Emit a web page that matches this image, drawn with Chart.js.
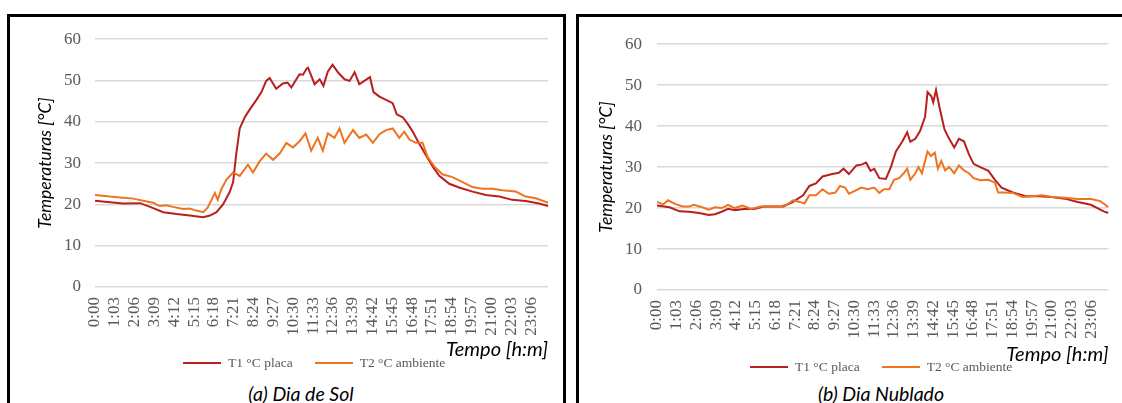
<!DOCTYPE html>
<html>
<head>
<meta charset="utf-8">
<script src="https://cdn.jsdelivr.net/npm/chart.js@4.4.1/dist/chart.umd.min.js"></script>
<style>
  html, body { margin: 0; padding: 0; background: #fff; }
  body { width: 1122px; height: 403px; position: relative; overflow: hidden; }
  .panel { position: absolute; border: 3px solid #000; box-sizing: content-box; }
  canvas { position: absolute; }
  .legend { position: absolute; display: flex; align-items: center; height: 16px;
            font: 13.5px 'Liberation Serif', serif; color: #595959; white-space: nowrap; }
  .legend .item { display: flex; align-items: center; margin-right: 22px; }
  .legend .swatch { width: 38px; height: 2px; margin-right: 7px; }
  .caption { position: absolute; width: 300px; text-align: center; line-height: 22px;
             font: italic 19.5px Lato, sans-serif; color: #000; }
</style>
</head>
<body>
<div class="panel" style="left:7px; top:14px; width:553px; height:400px;"></div>
<div class="panel" style="left:576px; top:14px; width:560px; height:400px;"></div>

<canvas id="chartSol" width="552" height="346" style="left:10px; top:15px;"></canvas>
<canvas id="chartNublado" width="542" height="345" style="left:580px; top:19px;"></canvas>

<div class="legend" id="legendSol" style="left:183px; top:355px;"></div>
<div class="legend" id="legendNublado" style="left:750px; top:359px;"></div>

<div class="caption" style="left:151px; top:382px;">(a) Dia de Sol</div>
<div class="caption" style="left:731px; top:382px;">(b) Dia Nublado</div>

<script>
// tick labels on the time axis (h:mm)
const timeLabels = ['0:00', '1:03', '2:06', '3:09', '4:12', '5:15', '6:18', '7:21', '8:24', '9:27', '10:30',
  '11:33', '12:36', '13:39', '14:42', '15:45', '16:48', '17:51', '18:54', '19:57', '21:00', '22:03', '23:06'];

// (a) sunny day - minutes since midnight / temperature
const solMinT1 = [0, 48, 90, 143, 175, 217, 259, 301, 344, 365, 386, 407, 428, 439, 449, 460, 476, 492, 513, 529,
  544, 555, 576, 597, 612, 624, 640, 650, 661, 673, 677, 698, 714, 726, 740, 755, 774, 793, 809, 825, 840, 856,
  874, 885, 904, 925, 946, 959, 978, 994, 1010, 1031, 1052, 1073, 1094, 1126, 1157, 1200, 1242, 1285, 1326,
  1369, 1411, 1440];
const solT1 = [20.9, 20.5, 20.2, 20.3, 19.4, 18.1, 17.7, 17.3, 16.9, 17.3, 18.1, 20.0, 23.0, 25.4, 32.3, 38.4,
  41.1, 43.0, 45.3, 47.2, 49.9, 50.6, 48.0, 49.3, 49.5, 48.3, 50.3, 51.5, 51.4, 52.9, 53.1, 49.1, 50.3, 48.7,
  52.2, 53.8, 51.8, 50.3, 49.9, 52.0, 49.1, 49.9, 50.8, 47.2, 46.1, 45.3, 44.5, 41.8, 41.1, 39.5, 37.6, 34.6,
  31.9, 29.2, 26.9, 25.0, 24.1, 23.1, 22.3, 21.9, 21.1, 20.8, 20.2, 19.6];

const solMinT2 = [0, 48, 79, 122, 153, 185, 206, 227, 248, 280, 301, 322, 344, 358, 381, 390, 402, 418, 439, 460,
  486, 502, 523, 544, 566, 587, 608, 629, 650, 669, 687, 708, 724, 740, 761, 777, 793, 820, 840, 862, 883, 904,
  925, 946, 967, 983, 999, 1020, 1041, 1057, 1078, 1104, 1136, 1168, 1200, 1232, 1263, 1295, 1337, 1369, 1401,
  1440];
const solT2 = [22.3, 21.9, 21.7, 21.4, 20.9, 20.4, 19.6, 19.8, 19.4, 18.9, 19.0, 18.5, 18.1, 19.2, 22.8, 21.1,
  23.8, 26.0, 27.7, 26.9, 29.6, 27.7, 30.4, 32.3, 30.8, 32.3, 34.9, 33.8, 35.3, 37.2, 33.0, 36.1, 33.0, 37.2,
  36.1, 38.4, 34.9, 38.0, 36.1, 36.9, 34.9, 37.0, 38.0, 38.4, 36.1, 37.6, 35.7, 34.9, 34.9, 31.5, 29.2, 27.3,
  26.6, 25.4, 24.2, 23.8, 23.8, 23.4, 23.1, 21.9, 21.5, 20.4];

// (b) cloudy day
const nubMinT1 = [0, 40, 72, 103, 134, 165, 185, 206, 227, 248, 279, 310, 341, 372, 403, 434, 466, 486, 507, 528,
  559, 580, 595, 612, 636, 652, 667, 681, 693, 709, 730, 746, 762, 782, 798, 808, 824, 839, 855, 863, 875, 881,
  890, 901, 917, 932, 948, 963, 979, 995, 1010, 1031, 1057, 1078, 1099, 1135, 1176, 1218, 1259, 1301, 1342,
  1384, 1425, 1440];
const nubT1 = [20.6, 20.2, 19.2, 19.1, 18.8, 18.3, 18.5, 19.1, 19.8, 19.5, 19.8, 19.8, 20.4, 20.4, 20.4, 21.5,
  23.1, 25.4, 26.0, 27.7, 28.3, 28.6, 29.6, 28.3, 30.4, 30.6, 31.1, 29.1, 29.6, 27.3, 27.1, 30.0, 33.8, 36.2,
  38.5, 36.2, 36.9, 38.8, 42.3, 48.3, 47.3, 45.8, 48.8, 44.6, 39.2, 36.9, 34.8, 36.9, 36.3, 33.1, 30.8, 30.0,
  29.1, 26.9, 25.0, 23.8, 22.9, 22.9, 22.7, 22.3, 21.5, 20.8, 19.2, 18.8];

const nubMinT2 = [0, 20, 35, 61, 82, 103, 118, 144, 165, 185, 206, 227, 248, 273, 300, 331, 362, 393, 413, 434,
  455, 470, 486, 507, 528, 548, 569, 584, 600, 612, 631, 652, 672, 693, 709, 724, 741, 756, 772, 787, 798, 808,
  824, 834, 845, 855, 863, 874, 886, 896, 907, 919, 932, 948, 963, 979, 995, 1010, 1031, 1057, 1078, 1088, 1104,
  1135, 1166, 1197, 1228, 1259, 1301, 1342, 1384, 1414, 1430, 1440];
const nubT2 = [21.5, 20.9, 21.9, 20.9, 20.4, 20.4, 20.8, 20.2, 19.6, 20.2, 20.0, 20.8, 20.0, 20.6, 19.8, 20.4,
  20.4, 20.4, 20.8, 21.9, 21.5, 21.1, 23.1, 23.1, 24.6, 23.5, 23.8, 25.4, 25.0, 23.5, 24.2, 25.0, 24.6, 25.0,
  23.7, 24.6, 24.6, 26.9, 27.3, 28.5, 29.6, 26.9, 28.5, 30.0, 28.5, 31.5, 33.8, 32.7, 33.5, 29.6, 31.5, 29.2,
  30.0, 28.5, 30.4, 29.2, 28.5, 27.3, 26.8, 26.9, 26.2, 23.8, 23.8, 23.7, 22.7, 22.9, 23.1, 22.7, 22.5, 22.2,
  22.2, 21.7, 20.8, 20.2];

const seriesNames = ['T1 °C placa', 'T2 °C ambiente'];
const seriesColors = ['#B81F1E', '#EE7420'];

const tickMinutes = timeLabels.map(t => {
  const [h, m] = t.split(':').map(Number);
  return h * 60 + m;
});

const toPoints = (xs, ys) => xs.map((x, i) => ({ x, y: ys[i] }));

const serif = { family: "'Liberation Serif', 'Times New Roman', serif", size: 17 };

function makeChart(id, t1, t2, opts) {
  const ctx = document.getElementById(id).getContext('2d');
  return new Chart(ctx, {
    type: 'line',
    data: {
      datasets: [
        { label: seriesNames[0], data: t1, borderColor: seriesColors[0], borderWidth: 2, order: 1 },
        { label: seriesNames[1], data: t2, borderColor: seriesColors[1], borderWidth: 2, order: 0 }
      ]
    },
    options: {
      responsive: false,
      animation: false,
      devicePixelRatio: 1,
      layout: { padding: { top: 11, right: opts.padRight, left: 0, bottom: 0 } },
      elements: { point: { radius: 0 }, line: { tension: 0 } },
      plugins: { legend: { display: false }, tooltip: { enabled: false } },
      scales: {
        x: {
          type: 'linear',
          min: 0,
          max: 1440,
          afterBuildTicks: (scale) => { scale.ticks = tickMinutes.map(v => ({ value: v })); },
          afterFit: (scale) => { scale.height = 74; },
          grid: { display: false, drawTicks: false },
          border: { display: false },
          ticks: {
            autoSkip: false,
            minRotation: 90,
            maxRotation: 90,
            padding: 10,
            color: '#595959',
            font: serif,
            callback: (v, i) => timeLabels[i]
          },
          title: {
            display: true,
            text: 'Tempo [h:m]',
            align: 'end',
            color: '#000',
            font: { family: 'Lato, sans-serif', size: 20, style: 'italic', lineHeight: 1 },
            padding: { top: 0, bottom: opts.xTitleBottom }
          }
        },
        y: {
          min: 0,
          max: 60,
          afterFit: (scale) => { scale.width = opts.yWidth; },
          ticks: { stepSize: 10, padding: opts.yTickPad, color: '#595959', font: serif },
          grid: { color: '#D9D9D9', lineWidth: 1.5, drawTicks: false },
          border: { display: false },
          title: {
            display: true,
            text: 'Temperaturas [°C]',
            color: '#000',
            font: { family: 'Lato, sans-serif', size: 17.5, style: 'italic', lineHeight: 1.2 },
            padding: { top: opts.yTitlePad, bottom: 0 }
          }
        }
      }
    }
  });
}

function buildLegend(chart, el) {
  chart.data.datasets.forEach(ds => {
    const item = document.createElement('span');
    item.className = 'item';
    const sw = document.createElement('span');
    sw.className = 'swatch';
    sw.style.background = ds.borderColor;
    item.appendChild(sw);
    item.appendChild(document.createTextNode(ds.label));
    el.appendChild(item);
  });
}

const solChart = makeChart('chartSol', toPoints(solMinT1, solT1), toPoints(solMinT2, solT2),
  { padRight: 13, yWidth: 85, yTickPad: 14, yTitlePad: 25, xTitleBottom: 1 });
const nubChart = makeChart('chartNublado', toPoints(nubMinT1, nubT1), toPoints(nubMinT2, nubT2),
  { padRight: 2, yWidth: 77, yTickPad: 15, yTitlePad: 16, xTitleBottom: -1 });

buildLegend(solChart, document.getElementById('legendSol'));
buildLegend(nubChart, document.getElementById('legendNublado'));
</script>
</body>
</html>
